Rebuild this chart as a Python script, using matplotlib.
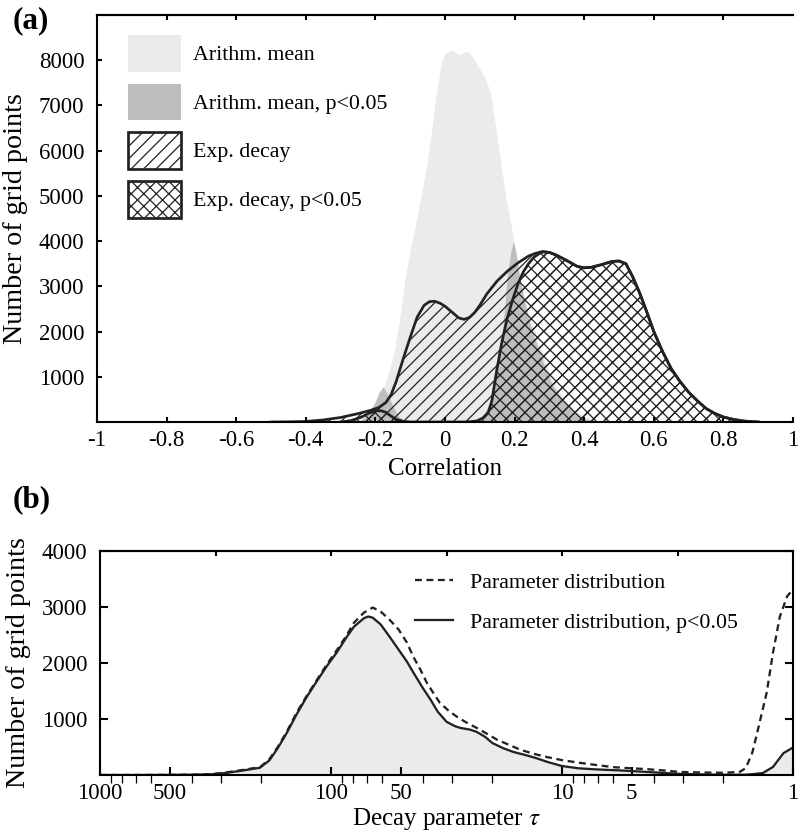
import numpy as np
import matplotlib
matplotlib.use('Agg')
import matplotlib.pyplot as plt
from matplotlib.patches import Patch
from matplotlib.lines import Line2D
from matplotlib.ticker import FixedLocator, FixedFormatter, NullFormatter

plt.rcParams['font.family'] = ['Liberation Serif', 'DejaVu Serif']
plt.rcParams['mathtext.fontset'] = 'stix'
plt.rcParams['axes.unicode_minus'] = False
plt.rcParams['hatch.linewidth'] = 0.6

# ---- panel (a): correlation distributions ----
am_x = [-0.44, -0.40, -0.36, -0.32, -0.28, -0.25, -0.235, -0.22, -0.205, -0.19, -0.175, -0.16,
        -0.145, -0.13, -0.115, -0.10, -0.085, -0.07, -0.055, -0.04, -0.025, -0.01, 0.0, 0.015,
        0.03, 0.043, 0.055, 0.065, 0.075, 0.09, 0.10, 0.115, 0.13, 0.145, 0.16, 0.175, 0.19,
        0.205, 0.22, 0.24, 0.26, 0.28, 0.30, 0.33, 0.36, 0.40, 0.44, 0.48]
am_y = [0, 5, 15, 30, 60, 100, 130, 220, 380, 560, 800, 1150,
        1600, 2300, 3150, 3800, 4350, 4950, 5550, 6350, 7250, 7950, 8150, 8220,
        8180, 8120, 8180, 8200, 8120, 7950, 7800, 7600, 7300, 6550, 5750, 4950, 4350,
        3600, 2850, 2450, 1950, 1500, 1100, 650, 350, 120, 30, 0]

ams_x = [-0.27, -0.24, -0.22, -0.20, -0.19, -0.178, -0.165, -0.15, -0.135, -0.12, -0.10,
         0.06, 0.09, 0.11, 0.13, 0.15, 0.165, 0.18, 0.19, 0.197, 0.205, 0.215, 0.225, 0.24,
         0.255, 0.27, 0.29, 0.31, 0.34, 0.37, 0.40, 0.43, 0.46]
ams_y = [0, 40, 180, 450, 650, 780, 620, 350, 140, 40, 5,
         5, 40, 150, 450, 1200, 2000, 3300, 3800, 4000, 3700, 3200, 2800, 2300,
         1900, 1600, 1150, 800, 480, 230, 80, 20, 0]

# shared upper part of both exp. decay curves
ed_tail_x = [0.30, 0.32, 0.35, 0.38, 0.40, 0.42, 0.45, 0.48, 0.50, 0.52, 0.54, 0.56, 0.58,
             0.60, 0.625, 0.65, 0.675, 0.70, 0.725, 0.75, 0.775, 0.80, 0.83, 0.86, 0.90]
ed_tail_y = [3750, 3690, 3570, 3440, 3410, 3420, 3480, 3550, 3560, 3500, 3200, 2840, 2430,
             2000, 1560, 1180, 900, 660, 470, 300, 190, 110, 55, 20, 0]

ed_x = [-0.50, -0.45, -0.40, -0.35, -0.30, -0.25, -0.215, -0.19, -0.17, -0.155, -0.14, -0.12,
        -0.10, -0.08, -0.06, -0.045, -0.03, -0.015, 0.0, 0.02, 0.04, 0.055, 0.07, 0.085, 0.10,
        0.12, 0.15, 0.18, 0.21, 0.24, 0.26, 0.28] + ed_tail_x
ed_y = [0, 3, 12, 45, 100, 185, 255, 320, 430, 600, 900, 1400,
        1870, 2320, 2580, 2660, 2670, 2630, 2560, 2430, 2300, 2270, 2310, 2420, 2580,
        2830, 3120, 3340, 3520, 3670, 3730, 3770] + ed_tail_y

eds_x = [-0.30, -0.27, -0.24, -0.22, -0.20, -0.185, -0.17, -0.155, -0.14, -0.12, -0.10,
         0.06, 0.09, 0.11, 0.124, 0.135, 0.149, 0.163, 0.178, 0.195, 0.21, 0.225, 0.24,
         0.255, 0.27, 0.28] + ed_tail_x
eds_y = [0, 30, 110, 190, 245, 250, 215, 130, 60, 15, 0,
         0, 20, 90, 200, 480, 1160, 1750, 2270, 2720, 3060, 3320, 3500,
         3640, 3720, 3760] + ed_tail_y

labels_a = ['Arithm. mean', 'Arithm. mean, p<0.05', 'Exp. decay', 'Exp. decay, p<0.05']

# ---- panel (b): decay parameter distributions ----
pd_x = [1000, 700, 500, 400, 330, 295, 250, 203, 185, 170, 155, 141, 128, 115, 104, 94, 86,
        79.5, 72, 66, 61, 56, 51, 47, 44, 41, 38.5, 36, 33.8, 31, 28.5, 26, 23.4, 21, 19.1,
        17, 15.1, 13.3, 11.6, 10, 8.3, 7, 6, 5, 4.3, 3.6, 3.1, 2.5, 2, 1.7, 1.6, 1.5, 1.43,
        1.3, 1.22, 1.14, 1.06, 1.0]
pd_y = [0, 0, 2, 5, 15, 36, 80, 140, 280, 500, 780, 1110, 1400, 1700, 1980, 2240, 2480,
        2720, 2900, 2990, 2920, 2780, 2600, 2370, 2110, 1880, 1650, 1460, 1290, 1150, 1040, 940,
        840, 730, 630, 540, 450, 380, 320, 265, 215, 175, 140, 120, 105, 80, 55, 45, 40, 55,
        125, 400, 750, 1470, 2190, 2830, 3190, 3320]

pds_x = [1000, 700, 500, 400, 330, 295, 250, 203, 185, 170, 155, 141, 128, 115, 104, 94, 86,
         79.5, 72, 69, 66, 61, 56, 51, 47, 44, 40, 37, 34.5, 31.6, 29, 27.5, 25, 23.4, 21.5,
         20, 18, 16.2, 14.5, 12.9, 11.5, 10, 8.5, 7.1, 5.5, 4.3, 3.1, 2.5, 2, 1.6, 1.5, 1.35,
         1.22, 1.1, 1.01, 1.0]
pds_y = [0, 0, 2, 5, 12, 30, 70, 130, 260, 480, 760, 1080, 1380, 1680, 1950, 2200, 2450,
         2650, 2800, 2830, 2810, 2690, 2480, 2240, 2030, 1830, 1550, 1340, 1130, 950, 870, 840,
         810, 770, 680, 570, 480, 410, 360, 300, 230, 160, 120, 100, 80, 55, 20, 10, 5, 5, 15,
         35, 145, 390, 480, 490]

labels_b = ['Parameter distribution', 'Parameter distribution, p<0.05']
tau_labelled = [1000, 500, 100, 50, 10, 5, 1]
tau_minor = [900, 800, 700, 600, 400, 300, 200, 90, 80, 70, 60, 40, 30, 20,
             9, 8, 7, 6, 4, 3, 2]

light = '#ebebeb'
dark = '#bdbdbd'
ink = '#222222'

fig = plt.figure(figsize=(800 / 150, 835 / 150), dpi=150)
ax1 = fig.add_axes([97 / 800, 1 - 422 / 835, 696 / 800, 407 / 835])
ax2 = fig.add_axes([100 / 800, 1 - 775 / 835, 693 / 800, 224 / 835])

# (a)
ax1.fill_between(am_x, am_y, color=light, lw=0)
ax1.fill_between(ams_x, ams_y, color=dark, lw=0)
ax1.fill_between(ed_x, ed_y, facecolor='none', edgecolor=ink, hatch='////', lw=0)
ax1.fill_between(eds_x, eds_y, facecolor='none', edgecolor=ink, hatch='xxxx', lw=0)
ax1.plot(ed_x, ed_y, color=ink, lw=1.3)
ax1.plot(eds_x, eds_y, color=ink, lw=1.3)

ax1.set_xlim(-1, 1)
ax1.set_ylim(0, 9000)
ax1.spines['right'].set_visible(False)
for s in ax1.spines.values():
    s.set_linewidth(1.0)
ax1.set_xticks(np.round(np.arange(-1, 1.01, 0.2), 1))
ax1.set_xticklabels(['-1', '-0.8', '-0.6', '-0.4', '-0.2', '0', '0.2', '0.4', '0.6', '0.8', '1'])
ax1.set_yticks([1000, 2000, 3000, 4000, 5000, 6000, 7000, 8000])
ax1.tick_params(direction='in', length=2.5, width=1.0, labelsize=11, top=False, right=False)
ax1.tick_params(axis='x', pad=4)
ax1.tick_params(axis='y', pad=6)
top1 = ax1.secondary_xaxis('top')
top1.set_xticks([-0.8, -0.6, -0.4, -0.2, 0, 0.2, 0.4, 0.6, 0.8])
top1.tick_params(direction='in', length=2.5, width=1.0, labeltop=False)
top1.spines['top'].set_linewidth(1.0)
ax1.set_xlabel('Correlation', fontsize=12, labelpad=3)
ax1.set_ylabel('Number of grid points', fontsize=13.5, labelpad=5)

handles_a = [Patch(facecolor=light, edgecolor='none'),
             Patch(facecolor=dark, edgecolor='none'),
             Patch(facecolor='white', edgecolor=ink, hatch='////', lw=1.3),
             Patch(facecolor='white', edgecolor=ink, hatch='xxxx', lw=1.3)]
ax1.legend(handles_a, labels_a, loc='upper left', bbox_to_anchor=(31 / 696, 1 - 20 / 407),
           frameon=False, fontsize=10.5, handlelength=2.4, handleheight=2.2,
           labelspacing=0.55, handletextpad=0.55, borderpad=0, borderaxespad=0)

# (b)
ax2.set_xscale('log')
ax2.fill_between(pds_x, pds_y, color=light, lw=0)
ax2.plot(pd_x, pd_y, color=ink, lw=1.1, ls=(0, (3, 2)))
ax2.plot(pds_x, pds_y, color=ink, lw=1.1)
ax2.set_xlim(1000, 1)
ax2.set_ylim(0, 4000)
for s in ax2.spines.values():
    s.set_linewidth(1.0)
ax2.xaxis.set_major_locator(FixedLocator(tau_labelled))
ax2.xaxis.set_major_formatter(FixedFormatter([str(t) for t in tau_labelled]))
ax2.xaxis.set_minor_locator(FixedLocator(tau_minor))
ax2.xaxis.set_minor_formatter(NullFormatter())
ax2.set_yticks([1000, 2000, 3000, 4000])
ax2.tick_params(direction='in', width=1.0, labelsize=11, top=False, right=True)
ax2.tick_params(axis='x', which='both', length=3.8, pad=4)
ax2.tick_params(axis='y', length=3.8, pad=6)
top2 = ax2.secondary_xaxis('top')
top2.xaxis.set_major_locator(FixedLocator([10 ** 2.5, 100, 10 ** 1.5, 10, 10 ** 0.5]))
top2.xaxis.set_minor_locator(FixedLocator([]))
top2.tick_params(direction='in', length=2.5, width=1.0, labeltop=False)
top2.spines['top'].set_linewidth(1.0)
ax2.set_xlabel(r'Decay parameter $\tau$', fontsize=12, labelpad=1)
ax2.set_ylabel('Number of grid points', fontsize=13.5, labelpad=5)

handles_b = [Line2D([], [], color=ink, lw=1.1, ls=(0, (3, 2))),
             Line2D([], [], color=ink, lw=1.1)]
ax2.legend(handles_b, labels_b, loc='upper left', bbox_to_anchor=(0.455, 0.905),
           frameon=False, fontsize=10.5, handlelength=1.7, handletextpad=0.8,
           labelspacing=0.9, borderpad=0, borderaxespad=0)

fig.text(13 / 800, 1 - 21 / 835, '(a)', fontsize=15, fontweight='bold', va='center', ha='left')
fig.text(13 / 800, 1 - 500 / 835, '(b)', fontsize=15, fontweight='bold', va='center', ha='left')

fig.savefig('out.png', dpi=150)
